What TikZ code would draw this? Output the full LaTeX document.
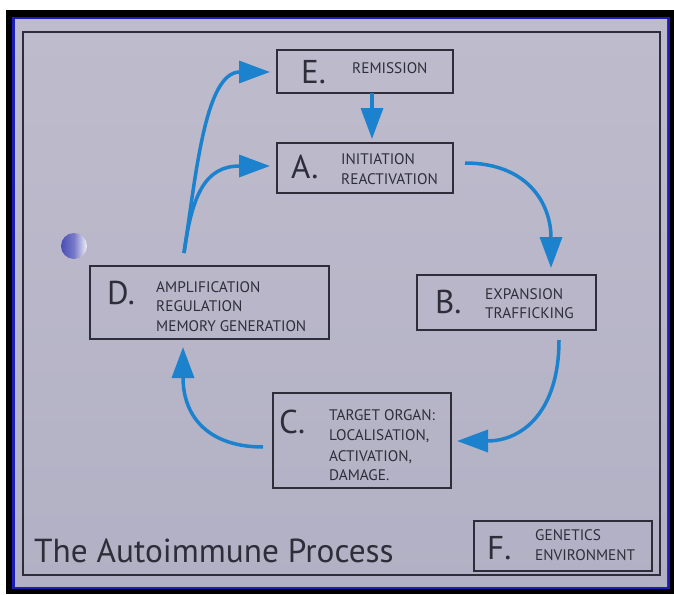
\documentclass[tikz,border=0pt]{standalone}
\usepackage{fontspec}
\setmainfont{PT Sans}
\usetikzlibrary{arrows.meta,calc}
\definecolor{bgtop}{RGB}{190,188,204}
\definecolor{bgbot}{RGB}{178,176,196}
\definecolor{ink}{RGB}{46,46,58}
\definecolor{flowblue}{RGB}{28,130,205}
\definecolor{rim}{RGB}{28,28,185}
\begin{document}
\begin{tikzpicture}[x=1pt,y=-1pt,
  stagebox/.style={draw=ink,line width=1.3pt,inner sep=0pt,outer sep=0pt},
  letter/.style={font=\fontsize{33}{33}\selectfont,text=ink,anchor=base west,inner sep=0pt},
  word/.style={font=\fontsize{15.3}{18}\selectfont,text=ink,anchor=base west,inner sep=0pt},
  flow/.style={draw=flowblue,line width=3.5pt,-{Triangle[length=31pt,width=22pt]}}]
\useasboundingbox (0,0) rectangle (674,594);
\fill[white] (0,0) rectangle (674,594);
\fill[black] (6,10) rectangle (674,594);
\fill[rim] (12,17) rectangle (670,589);
\shade[top color=bgtop,bottom color=bgbot] (15,20) rectangle (667,586);
\draw[ink,line width=1.2pt] (23,32) rectangle (660,575);
% sphere
\shade[left color={rgb,255:red,75;green,78;blue,180},right color={rgb,255:red,240;green,240;blue,248},middle color={rgb,255:red,120;green,122;blue,200}] (74,246) circle (13pt);
% boxes
\node[stagebox,minimum width=176pt,minimum height=43pt] (E) at (365,71.5) {};
\node[stagebox,minimum width=176pt,minimum height=50pt] (A) at (365,168) {};
\node[stagebox,minimum width=239pt,minimum height=73pt] (D) at (209.5,302.5) {};
\node[stagebox,minimum width=179pt,minimum height=55pt] (B) at (506.5,302.5) {};
\node[stagebox,minimum width=178pt,minimum height=95pt] (C) at (362,440.5) {};
\node[stagebox,minimum width=178pt,minimum height=50pt] (F) at (563,546) {};
% texts
\node[letter] (El) at (301,83) {E.};
\node[word] (E1) at (352,74) {REMISSION};
\node[letter] (Al) at (291,178) {A.};
\node[word] (A1) at (341,164) {INITIATION};
\node[word] (A2) at (341,184) {REACTIVATION};
\node[letter] (Dl) at (107,304) {D.};
\node[word] (D1) at (156,292) {AMPLIFICATION};
\node[word] (D2) at (156,311) {REGULATION};
\node[word] (D3) at (156,331) {MEMORY GENERATION};
\node[letter] (Bl) at (435,313) {B.};
\node[word] (B1) at (485,299) {EXPANSION};
\node[word] (B2) at (485,318) {TRAFFICKING};
\node[letter] (Cl) at (279,433) {C.};
\node[word] (C1) at (329,420) {TARGET ORGAN:};
\node[word] (C2) at (329,440) {LOCALISATION,};
\node[word] (C3) at (329,461) {ACTIVATION,};
\node[word] (C4) at (329,480) {DAMAGE.};
\node[letter] (Fl) at (487,559) {F.};
\node[word] (F1) at (535,540) {GENETICS};
\node[word] (F2) at (535,560) {ENVIRONMENT};
\node[font=\fontsize{33.3}{34}\selectfont,text=ink,anchor=base west,inner sep=0pt] (title) at (34,562) {The Autoimmune Process};
% connectors
\draw[flow] ($(E.south)+(7,0)$) -- ($(A.north)+(7,-4)$);
\draw[flow] ($(A.east)+(12,-5)$) .. controls +(62,0) and +(0,-65) .. ($(B.north)+(44.5,-7)$);
\draw[flow] ($(B.south)+(52.5,10)$) .. controls +(0,72) and +(65,0) .. ($(C.east)+(6,0.5)$);
\draw[flow] ($(C.west)+(-10,6.5)$) .. controls +(-52,0) and +(0,72) .. ($(D.south)+(-26.5,8)$);
\draw[flow] ($(D.north)+(-25.5,-13)$) .. controls +(12,-78) and +(-65,0) .. ($(E.west)+(-7,0.5)$);
\draw[flow] ($(D.north)+(-25.5,-13)$) .. controls +(8,-58) and +(-65,0) .. ($(A.west)+(-7,-2)$);
\end{tikzpicture}
\end{document}
